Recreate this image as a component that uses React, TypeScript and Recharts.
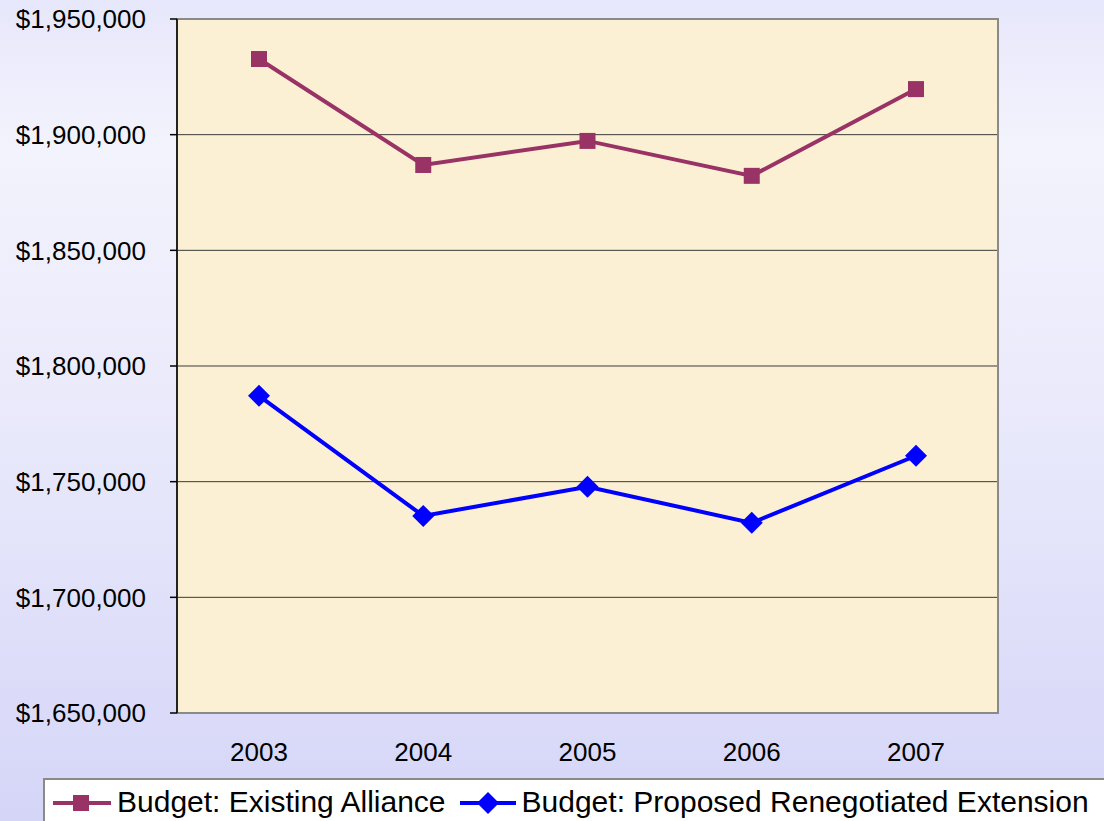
import { LineChart, Line, XAxis, YAxis, CartesianGrid, ReferenceArea } from 'recharts'

// ─── Data ──────────────────────────────────────────────────────────────────────

const years = ['2003', '2004', '2005', '2006', '2007']
const existingAlliance = [1932700, 1886900, 1897300, 1882200, 1919700]
const proposedExtension = [1787100, 1735200, 1747800, 1732200, 1761200]
const yTicks = [1650000, 1700000, 1750000, 1800000, 1850000, 1900000, 1950000]
const bandEdges = [0, 1, 2, 3, 4, 5]

const seriesNames = ['Budget: Existing Alliance', 'Budget: Proposed Renegotiated Extension']

const data = years.map((year, i) => ({
  year,
  existing: existingAlliance[i],
  proposed: proposedExtension[i],
}))

// ─── Styles ────────────────────────────────────────────────────────────────────

const FONT = '"Liberation Sans", Arial, sans-serif'
const PLUM = '#993366'
const BLUE = '#0000ff'

const fmtMoney = (v: number) => `$${v.toLocaleString('en-US')}`

function SquareDot(props: any) {
  const { cx, cy } = props
  if (cx == null || cy == null) return null
  return <rect x={cx - 8} y={cy - 8} width={16} height={16} fill={PLUM} />
}

function DiamondDot(props: any) {
  const { cx, cy } = props
  if (cx == null || cy == null) return null
  const r = 11
  return (
    <polygon
      points={`${cx},${cy - r} ${cx + r},${cy} ${cx},${cy + r} ${cx - r},${cy}`}
      fill={BLUE}
    />
  )
}

function LegendBox() {
  return (
    <div
      style={{
        position: 'absolute',
        left: 43,
        top: 778,
        width: 1100,
        height: 60,
        background: '#ffffff',
        border: '2px solid #8a8a8a',
        fontFamily: FONT,
        fontSize: 30,
        color: '#000',
        display: 'flex',
        alignItems: 'flex-start',
        paddingTop: 6,
        boxSizing: 'border-box',
        whiteSpace: 'nowrap',
      }}
    >
      <svg width={62} height={30} style={{ marginLeft: 6, marginTop: 2 }}>
        <line x1={2} y1={15} x2={60} y2={15} stroke={PLUM} strokeWidth={4} />
        <rect x={22} y={7} width={16} height={16} fill={PLUM} />
      </svg>
      <span style={{ marginLeft: 4, lineHeight: '32px' }}>{seriesNames[0]}</span>
      <svg width={60} height={30} style={{ marginLeft: 12, marginTop: 2 }}>
        <line x1={2} y1={15} x2={58} y2={15} stroke={BLUE} strokeWidth={4} />
        <polygon points="30,4 41,15 30,26 19,15" fill={BLUE} />
      </svg>
      <span style={{ marginLeft: 4, lineHeight: '32px' }}>{seriesNames[1]}</span>
    </div>
  )
}

// ─── Component ─────────────────────────────────────────────────────────────────

export default function App() {
  return (
    <div
      style={{
        position: 'absolute',
        top: 0,
        left: 0,
        width: 1104,
        height: 821,
        overflow: 'hidden',
        background: 'linear-gradient(to bottom, #e7e7fb 0%, #f3f3fd 18%, #e8e8fb 55%, #d5d5f8 100%)',
      }}
    >
      <LineChart
        width={1104}
        height={821}
        data={data}
        margin={{ top: 19, right: 106, left: 0, bottom: 0 }}
        style={{ fontFamily: FONT }}
      >
        <CartesianGrid
          vertical={false}
          stroke="#3a3a3a"
          fill="#fcf0d4"
          fillOpacity={1}
          horizontalValues={yTicks}
        />
        <ReferenceArea
          y1={1650000}
          y2={1950000}
          fill="none"
          stroke="#8a8a8a"
          strokeWidth={2}
        />
        <XAxis
          xAxisId="edges"
          type="number"
          domain={[0, 5]}
          ticks={bandEdges}
          tick={false}
          tickSize={8}
          height={8}
          stroke="#000"
          axisLine={{ stroke: '#000', strokeWidth: 1.5 }}
          tickLine={{ stroke: '#000', strokeWidth: 1.5 }}
          allowDataOverflow
        />
        <XAxis
          xAxisId="cat"
          dataKey="year"
          padding={{ left: 82, right: 82 }}
          axisLine={false}
          tickLine={false}
          tickMargin={24}
          height={100}
          tick={{ fontSize: 26, fill: '#000', fontFamily: FONT }}
          interval={0}
        />
        <YAxis
          domain={[1650000, 1950000]}
          ticks={yTicks}
          width={177}
          tickSize={7}
          tickMargin={24}
          interval={0}
          tickFormatter={fmtMoney}
          axisLine={{ stroke: '#000', strokeWidth: 1.5 }}
          tickLine={{ stroke: '#000', strokeWidth: 1.5 }}
          tick={{ fontSize: 26, fill: '#000', fontFamily: FONT }}
        />
        <Line
          xAxisId="cat"
          dataKey="existing"
          name={seriesNames[0]}
          stroke={PLUM}
          strokeWidth={4}
          dot={<SquareDot />}
          activeDot={false}
          isAnimationActive={false}
        />
        <Line
          xAxisId="cat"
          dataKey="proposed"
          name={seriesNames[1]}
          stroke={BLUE}
          strokeWidth={4}
          dot={<DiamondDot />}
          activeDot={false}
          isAnimationActive={false}
        />
      </LineChart>
      <LegendBox />
    </div>
  )
}
